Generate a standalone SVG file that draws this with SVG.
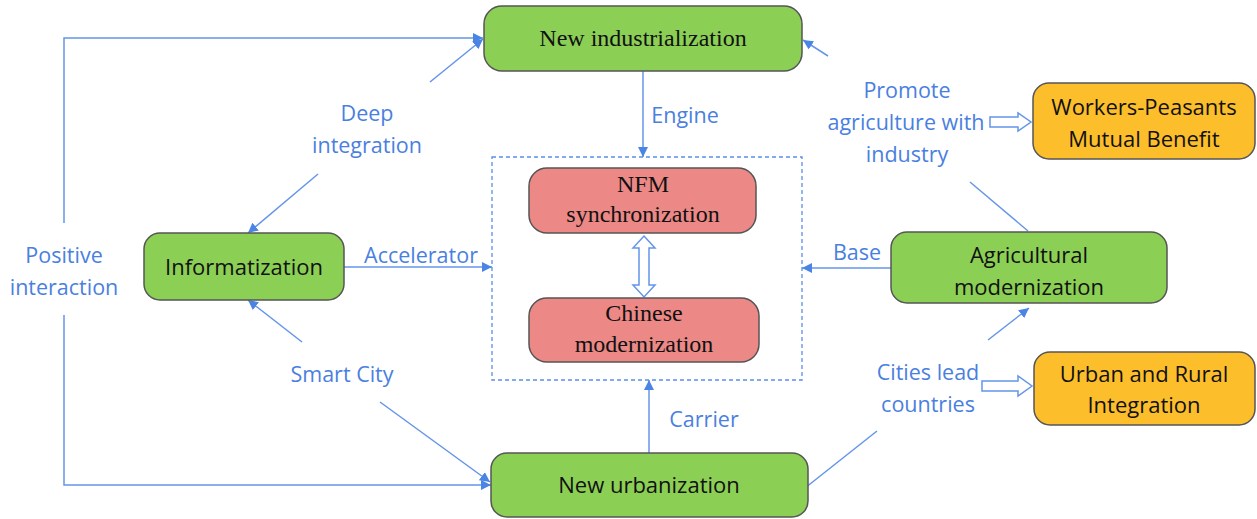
<svg xmlns="http://www.w3.org/2000/svg" width="1257" height="519" viewBox="0 0 1257 519">
<defs>
<marker id="ah" viewBox="0 0 10 10" refX="10" refY="5" markerWidth="10" markerHeight="10" markerUnits="userSpaceOnUse" orient="auto">
<path d="M0,0 L10,5 L0,10 z" fill="#4A84E4"/>
</marker>
</defs>
<style>
.green{fill:#8CCF55;stroke:#555;stroke-width:1.5}
.orange{fill:#FDBE2C;stroke:#555;stroke-width:1.5}
.red{fill:#EC8886;stroke:#555;stroke-width:1.5}
.ln{fill:none;stroke:#6495EA;stroke-width:1.5}
.arr{marker-end:url(#ah)}
.hollow{fill:#fff;stroke:#6495EA;stroke-width:1.5}
.lbl{font-family:"Open Sans","Noto Sans",sans-serif;font-size:21.5px;fill:#4A7FE0;text-anchor:middle}
.sans{font-family:"Open Sans","Noto Sans",sans-serif;font-size:22px;fill:#111;text-anchor:middle}
.serif{font-family:"Liberation Serif",serif;font-size:24px;fill:#111;text-anchor:middle}
</style>
<g id="connectors">
<polyline class="ln arr" points="64,223 64,38 483,38"/>
<polyline class="ln arr" points="64,315 64,485 491,485"/>
<line class="ln arr" x1="430" y1="82" x2="483" y2="39"/>
<line class="ln arr" x1="318" y1="174" x2="248" y2="233"/>
<line class="ln arr" x1="302" y1="342" x2="248" y2="300"/>
<line class="ln arr" x1="380" y1="402" x2="490" y2="482"/>
<line class="ln arr" x1="344" y1="267" x2="492" y2="267"/>
<line class="ln arr" x1="643" y1="71" x2="643" y2="157"/>
<line class="ln arr" x1="649" y1="453" x2="649" y2="380"/>
<line class="ln arr" x1="891" y1="268" x2="802" y2="268"/>
<line class="ln arr" x1="828" y1="56" x2="803" y2="40"/>
<line class="ln" x1="1028" y1="231" x2="970" y2="182"/>
<line class="ln" x1="805" y1="488" x2="877" y2="431"/>
<line class="ln arr" x1="988" y1="340" x2="1029" y2="308"/>
<path class="hollow" d="M990,117 L1018,117 L1018,113 L1031,122 L1018,131 L1018,127 L990,127 z"/>
<path class="hollow" d="M982,381 L1018,381 L1018,376 L1032,386 L1018,396 L1018,391 L982,391 z"/>
<path class="hollow" d="M644,236 L655,248 L649,248 L649,285 L655,285 L644,297 L633,285 L639,285 L639,248 L633,248 z"/>
<rect x="492" y="157" width="310" height="223" fill="none" stroke="#5B8FE6" stroke-width="1.3" stroke-dasharray="4,3"/>
<text class="lbl" x="685" y="123">Engine</text>
<text class="lbl" x="367" y="121">Deep</text>
<text class="lbl" x="367" y="153">integration</text>
<text class="lbl" x="64" y="263">Positive</text>
<text class="lbl" x="64" y="295">interaction</text>
<text class="lbl" x="421" y="263">Accelerator</text>
<text class="lbl" x="342" y="382">Smart City</text>
<text class="lbl" x="704" y="427">Carrier</text>
<text class="lbl" x="857" y="260">Base</text>
<text class="lbl" x="907" y="98">Promote</text>
<text class="lbl" x="906" y="130">agriculture with</text>
<text class="lbl" x="907" y="162">industry</text>
<text class="lbl" x="928" y="380">Cities lead</text>
<text class="lbl" x="928" y="412">countries</text>
</g>
<g id="new-industrialization">
<rect class="green" x="484" y="6" width="318" height="65" rx="18"/>
<text class="serif" x="643" y="46">New industrialization</text>
</g>
<g id="nfm-synchronization">
<rect class="red" x="529" y="168" width="227" height="65" rx="18"/>
<text class="serif" x="643" y="192">NFM</text>
<text class="serif" x="643" y="222">synchronization</text>
</g>
<g id="chinese-modernization">
<rect class="red" x="529" y="298" width="230" height="64" rx="18"/>
<text class="serif" x="644" y="321">Chinese</text>
<text class="serif" x="644" y="352">modernization</text>
</g>
<g id="informatization">
<rect class="green" x="144" y="233" width="200" height="67" rx="16"/>
<text class="sans" x="244" y="275">Informatization</text>
</g>
<g id="new-urbanization">
<rect class="green" x="491" y="453" width="317" height="64" rx="16"/>
<text class="sans" x="649" y="493">New urbanization</text>
</g>
<g id="agricultural-modernization">
<rect class="green" x="891" y="232" width="276" height="71" rx="16"/>
<text class="sans" x="1029" y="263">Agricultural</text>
<text class="sans" x="1029" y="295">modernization</text>
</g>
<g id="workers-peasants">
<rect class="orange" x="1033" y="83" width="222" height="76" rx="16"/>
<text class="sans" x="1144" y="115">Workers-Peasants</text>
<text class="sans" x="1144" y="147">Mutual Benefit</text>
</g>
<g id="urban-rural">
<rect class="orange" x="1034" y="352" width="221" height="73" rx="16"/>
<text class="sans" x="1144" y="382">Urban and Rural</text>
<text class="sans" x="1144" y="413">Integration</text>
</g>
</svg>
